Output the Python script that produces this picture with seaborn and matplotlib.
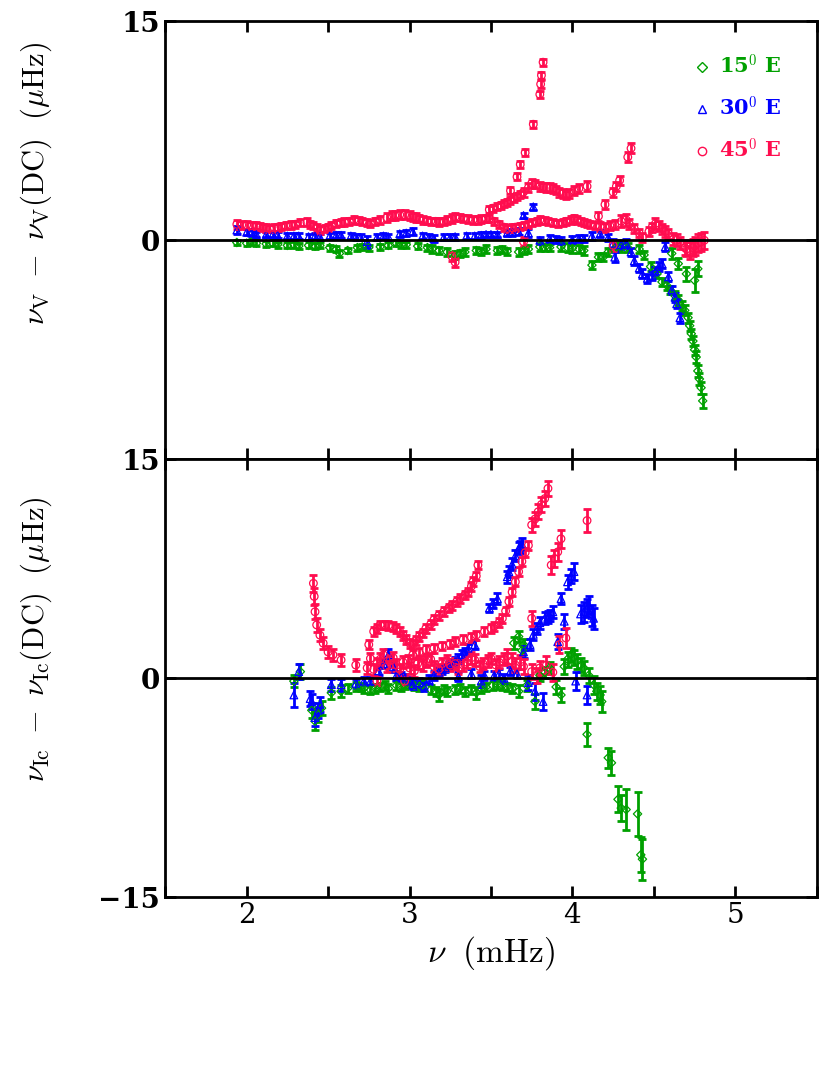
import pandas as pd
import matplotlib
matplotlib.use('Agg')
import matplotlib.pyplot as plt
import seaborn as sns
from matplotlib.lines import Line2D

# data: (frequency mHz, shift uHz, error uHz)
top_green = [(1.94,-0.15,.2),(2.00,-0.2,.2),(2.06,-0.2,.2),(2.12,-0.25,.2),(2.19,-0.3,.2),(2.25,-0.35,.2),
             (2.32,-0.4,.2),(2.38,-0.35,.2),(2.45,-0.35,.2),(2.51,-0.5,.2),(2.57,-0.9,.25),(2.62,-0.7,.2),
             (2.68,-0.5,.2),(2.75,-0.5,.2),(2.82,-0.45,.2),(2.87,-0.35,.2),(2.92,-0.2,.2),(2.98,-0.3,.2),
             (3.05,-0.4,.2),(3.11,-0.5,.2),(3.18,-0.7,.25),(3.23,-0.8,.25),(3.28,-1.0,.25),(3.34,-0.8,.25),
             (3.41,-0.7,.25),(3.47,-0.6,.25),(3.54,-0.7,.25),(3.60,-0.75,.25),(3.67,-0.8,.25),(3.73,-0.6,.25),
             (3.80,-0.45,.25),(3.86,-0.5,.25),(3.93,-0.45,.3),(4.00,-0.55,.3),(4.07,-0.7,.3),(4.12,-1.7,.3),
             (4.16,-1.15,.3),(4.19,-1.15,.3),(4.22,-0.8,.3),(4.27,-0.45,.3),(4.34,-0.5,.3),(4.41,-0.6,.3),
             (4.48,-1.8,.3),(4.52,-2.3,.3),(4.55,-2.85,.3),(4.58,-3.1,.3),(4.60,-3.4,.3),(4.63,-3.8,.3),
             (4.65,-4.1,.35),(4.67,-4.5,.35),(4.69,-4.8,.35),(4.71,-5.3,.35),(4.72,-5.85,.35),(4.73,-6.4,.35),
             (4.74,-6.9,.35),(4.75,-7.5,.35),(4.76,-8.0,.4),(4.77,-8.95,.4),(4.78,-9.5,.4),(4.79,-10.1,.4),
             (4.80,-11.0,.5),(4.61,-0.9,.4),(4.65,-1.6,.4),(4.70,-2.3,.5),(4.75,-2.75,.8),(4.77,-1.95,.5),
             (2.03,-0.1,.2),(2.16,-0.2,.2),(2.29,-0.3,.2),(2.42,-0.4,.2),(2.55,-0.6,.2),(2.71,-0.45,.2),
             (2.95,-0.3,.2),(3.14,-0.6,.25),(3.31,-0.9,.25),(3.44,-0.75,.25),(3.57,-0.65,.25),(3.70,-0.7,.25),
             (3.83,-0.5,.25),(3.97,-0.5,.3),(4.04,-0.6,.3),(4.30,-0.5,.3),(4.44,-1.0,.3)]

top_blue = [(1.94,0.7,.25),(2.00,0.55,.2),(2.06,0.4,.2),(2.12,0.4,.2),(2.19,0.35,.2),(2.25,0.3,.2),
            (2.32,0.3,.2),(2.38,0.25,.2),(2.45,0.25,.2),(2.51,0.3,.2),(2.58,0.35,.2),(2.64,0.3,.2),
            (2.70,0.2,.2),(2.74,-0.1,.4),(2.80,0.2,.2),(2.87,0.25,.2),(2.94,0.45,.2),(3.02,0.6,.25),
            (3.08,0.3,.2),(3.15,0.1,.25),(3.21,0.2,.2),(3.28,0.25,.2),(3.35,0.3,.2),(3.44,0.35,.2),
            (3.50,0.4,.2),(3.54,0.4,.2),(3.60,0.5,.2),(3.67,0.6,.25),(3.70,1.7,.2),(3.76,2.3,.2),
            (3.80,0.0,.25),(3.86,0.1,.25),(3.93,0.0,.25),(4.00,0.05,.25),(4.07,0.1,.25),(4.12,0.3,.25),
            (4.17,0.45,.25),(4.22,0.2,.25),(4.25,-0.2,.3),(4.26,-1.15,.35),(4.30,-0.3,.3),(4.33,-0.2,.3),
            (4.36,-0.8,.3),(4.38,-1.4,.3),(4.41,-1.9,.3),(4.43,-2.3,.3),(4.46,-2.6,.3),(4.49,-2.4,.3),
            (4.51,-2.1,.3),(4.53,-1.8,.3),(4.55,-1.6,.3),(4.57,-0.45,.3),(4.59,-2.5,.3),(4.61,-3.4,.3),
            (4.63,-3.9,.3),(4.64,-4.35,.3),(4.66,-5.3,.35),
            (2.03,0.5,.2),(2.16,0.4,.2),(2.29,0.3,.2),(2.42,0.3,.2),(2.55,0.35,.2),(2.67,0.25,.2),
            (2.84,0.3,.2),(2.98,0.5,.2),(3.12,0.2,.2),(3.25,0.2,.2),(3.40,0.3,.2),(3.47,0.4,.2),
            (3.63,0.55,.25),(3.73,0.5,.25),(3.90,0.05,.25),(4.04,0.1,.25)]

top_red = [(1.94,1.1,.3),(2.00,1.05,.25),(2.06,1.0,.25),(2.10,0.9,.25),(2.14,0.8,.25),(2.19,0.9,.25),
           (2.24,1.0,.25),(2.30,1.1,.25),(2.37,1.25,.25),(2.41,1.0,.25),(2.45,0.7,.25),(2.50,0.9,.25),
           (2.55,1.15,.25),(2.60,1.25,.25),(2.66,1.4,.25),(2.71,1.3,.25),(2.76,1.15,.25),(2.82,1.4,.25),
           (2.89,1.7,.3),(2.94,1.75,.3),(3.00,1.7,.3),(3.04,1.55,.3),(3.08,1.4,.25),(3.13,1.3,.25),
           (3.18,1.25,.25),(3.23,1.4,.25),(3.28,1.6,.3),(3.33,1.5,.25),(3.39,1.4,.25),(3.44,1.45,.25),
           (3.49,1.5,.25),(3.55,1.1,.25),(3.60,0.8,.25),(3.65,0.9,.25),(3.70,1.0,.25),(3.75,1.2,.25),
           (3.80,1.4,.25),(3.85,1.3,.25),(3.91,1.15,.25),(3.96,1.3,.25),(4.01,1.5,.25),(4.05,1.3,.25),
           (4.09,1.15,.25),(4.14,1.0,.25),(4.20,0.9,.3),(4.26,1.1,.3),(4.30,1.3,.4),(4.33,1.4,.4),
           (4.38,0.8,.3),(4.43,0.2,.3),(4.47,0.6,.3),(4.51,1.15,.35),(4.55,0.8,.35),(4.59,0.45,.35),
           (4.62,0.1,.4),(4.66,-0.2,.4),(4.69,-0.5,.5),(4.72,-0.7,.6),(4.75,-0.4,.6),(4.77,-0.2,.6),
           (4.81,0.0,.6),
           (1.97,1.05,.25),(2.03,1.0,.25),(2.08,0.95,.25),(2.12,0.85,.25),(2.17,0.85,.25),(2.21,0.95,.25),
           (2.27,1.05,.25),(2.33,1.2,.25),(2.39,1.1,.25),(2.43,0.85,.25),(2.48,0.8,.25),(2.52,1.0,.25),
           (2.58,1.2,.25),(2.63,1.3,.25),(2.69,1.35,.25),(2.74,1.2,.25),(2.79,1.3,.25),(2.86,1.55,.3),
           (2.91,1.7,.3),(2.97,1.75,.3),(3.02,1.6,.3),(3.06,1.5,.25),(3.11,1.35,.25),(3.16,1.3,.25),
           (3.21,1.3,.25),(3.26,1.5,.3),(3.31,1.55,.25),(3.36,1.45,.25),(3.42,1.4,.25),(3.47,1.5,.25),
           (3.52,1.3,.25),(3.58,0.9,.25),(3.63,0.85,.25),(3.68,0.95,.25),(3.73,1.1,.25),(3.78,1.3,.25),
           (3.83,1.35,.25),(3.88,1.2,.25),(3.94,1.2,.25),(3.99,1.4,.25),(4.03,1.4,.25),(4.07,1.2,.25),
           (4.11,1.1,.25),(4.17,0.95,.3),(4.23,1.0,.3),(4.35,1.1,.35),(4.41,0.5,.3),(4.49,0.9,.3),
           (4.53,1.0,.35),(4.57,0.6,.35),(4.64,0.0,.4),(4.70,-0.6,.5),(4.74,-0.5,.6),(4.79,-0.1,.6),
           (3.49,2.1,.25),(3.54,2.3,.25),(3.58,2.5,.25),(3.62,2.75,.25),(3.66,3.0,.25),(3.70,3.3,.3),
           (3.75,3.9,.3),(3.80,3.7,.3),(3.84,3.6,.3),(3.88,3.55,.3),(3.92,3.3,.3),(3.96,3.1,.3),
           (4.01,3.4,.3),(4.04,3.55,.3),(4.09,3.7,.35),
           (3.51,2.2,.25),(3.56,2.4,.25),(3.60,2.6,.25),(3.64,2.9,.25),(3.68,3.15,.25),(3.73,3.6,.3),
           (3.77,3.85,.3),(3.82,3.65,.3),(3.86,3.6,.3),(3.90,3.45,.3),(3.94,3.2,.3),(3.98,3.2,.3),
           (3.62,3.4,.25),(3.66,4.35,.25),(3.68,5.2,.25),(3.71,6.0,.25),(3.76,7.95,.25),(3.80,10.0,.25),
           (3.805,10.7,.25),(3.81,11.3,.25),(3.82,12.2,.25),
           (4.16,1.65,.3),(4.20,2.45,.3),(4.25,3.3,.3),(4.27,3.7,.3),(4.29,4.1,.3),(4.34,5.7,.35),
           (4.36,6.3,.35),
           (3.26,-1.1,.3),(3.28,-1.5,.3),(3.70,-0.1,.3),(4.25,-0.35,.4)]

bot_green = [(2.29,-0.2,.4),(2.33,0.45,.5),(2.40,-2.2,.5),(2.42,-2.95,.6),(2.44,-2.5,.5),(2.46,-2.05,.5),
             (2.52,-1.0,.4),(2.58,-0.9,.4),(2.67,-0.55,.3),(2.72,-0.7,.3),(2.76,-0.8,.3),(2.82,-0.6,.3),
             (2.87,-0.7,.3),(2.92,-0.5,.3),(2.97,-0.45,.3),(3.03,-0.5,.3),(3.08,-0.45,.3),(3.13,-0.8,.3),
             (3.18,-1.15,.4),(3.23,-0.9,.3),(3.28,-0.8,.3),(3.34,-0.9,.3),(3.41,-1.0,.4),(3.47,-0.6,.3),
             (3.54,-0.45,.3),(3.60,-0.6,.3),(3.67,-0.9,.4),(3.67,2.85,.4),(3.70,2.3,.4),(3.72,-0.5,.4),
             (3.77,-1.6,.5),(3.80,0.2,.4),(3.86,0.7,.4),(3.90,-0.6,.5),(3.93,-1.15,.5),(3.97,1.3,.5),
             (3.99,1.6,.5),(4.03,1.15,.5),(4.05,0.9,.5),(4.07,0.7,.5),(4.10,0.2,.5),(4.13,-0.45,.6),
             (4.15,-0.9,.6),(4.17,-1.15,.6),(4.18,-1.6,.7),(4.09,-3.85,.8),(4.22,-5.45,.7),(4.24,-5.8,.8),
             (4.28,-8.3,.9),(4.30,-8.9,.9),(4.33,-9.0,1.4),(4.40,-9.3,1.5),(4.42,-12.1,1.2),(4.43,-12.4,1.4),
             (2.62,-0.7,.3),(2.70,-0.6,.3),(2.79,-0.7,.3),(2.85,-0.5,.3),(2.95,-0.55,.3),(3.00,-0.4,.3),
             (3.06,-0.55,.3),(3.16,-0.9,.3),(3.21,-0.8,.3),(3.31,-0.7,.3),(3.38,-0.8,.3),(3.44,-0.7,.3),
             (3.51,-0.5,.3),(3.57,-0.5,.3),(3.63,-0.7,.3),(3.64,2.4,.4),(3.69,1.9,.4),(3.83,0.4,.4),
             (3.95,0.8,.5),(4.01,1.4,.5)]

bot_blue = [(2.29,-1.15,.8),(2.32,0.45,.5),(2.39,-1.4,.5),(2.40,-1.6,.5),(2.42,-2.7,.6),(2.44,-2.2,.5),
            (2.45,-1.8,.5),(2.52,-0.45,.4),(2.58,-0.45,.4),(2.67,-0.35,.3),(2.72,-0.2,.3),(2.76,-0.2,.3),
            (2.81,0.5,.3),(2.87,1.6,.4),(2.90,0.8,.4),(2.92,0.2,.3),(2.97,0.0,.3),(3.02,-0.45,.3),
            (3.06,-0.3,.3),(3.09,-0.55,.3),(3.15,0.2,.3),(3.20,0.6,.3),(3.24,0.9,.3),(3.28,1.15,.3),
            (3.32,1.6,.3),(3.36,2.05,.3),(3.40,2.3,.3),(3.44,-0.2,.4),(3.49,4.8,.3),(3.51,5.1,.3),
            (3.54,5.45,.4),(3.60,6.95,.4),(3.63,7.8,.4),(3.65,8.4,.4),(3.67,8.9,.4),(3.69,9.2,.4),
            (3.70,1.8,.4),(3.74,2.3,.4),(3.77,-0.9,.6),(3.78,3.4,.4),(3.80,3.8,.4),(3.82,-1.6,.6),
            (3.83,4.1,.4),(3.86,4.3,.4),(3.88,4.55,.4),(3.91,2.5,.5),(3.93,5.45,.4),(3.95,3.9,.5),
            (3.97,6.6,.5),(4.01,7.3,.6),(4.02,-0.2,.6),(4.05,4.4,.6),(4.07,4.55,.7),(4.09,4.8,.6),
            (4.09,-1.15,.6),(4.12,4.3,.7),(4.13,4.1,.7),
            (3.30,0.1,.3),(3.38,0.3,.3),(3.46,0.2,.3),(3.55,0.3,.3),(3.62,0.5,.3),(3.73,-0.3,.5),
            (2.84,1.0,.3),(2.95,0.1,.3),(3.00,-0.2,.3),(3.12,-0.1,.3),(3.18,0.4,.3),(3.22,0.7,.3),
            (3.26,1.0,.3),(3.30,1.35,.3),(3.34,1.8,.3),(3.52,0.2,.3),(3.58,0.0,.3),(3.66,0.3,.3),
            (3.61,7.3,.4),(3.68,9.0,.4),(3.76,3.0,.4),(3.85,4.2,.4),(3.99,7.0,.5),(4.10,5.0,.6)]

bot_red = [(2.41,6.5,.6),(2.415,5.6,.6),(2.42,4.55,.5),(2.43,3.65,.5),(2.45,2.95,.4),(2.47,2.4,.4),
           (2.50,1.8,.4),(2.53,1.6,.4),(2.58,1.25,.4),(2.67,0.9,.4),(2.74,0.7,.4),
           (2.75,2.3,.3),(2.78,3.2,.3),(2.80,3.4,.3),(2.82,3.65,.3),(2.85,3.65,.3),(2.87,3.6,.3),
           (2.90,3.55,.3),(2.92,3.4,.3),(2.94,3.2,.3),(2.96,2.95,.3),(2.98,2.65,.3),(3.00,2.4,.3),
           (3.02,2.3,.3),(3.04,2.6,.3),(3.06,2.85,.3),(3.08,3.1,.3),(3.10,3.4,.3),(3.13,3.7,.3),
           (3.15,4.0,.3),(3.18,4.3,.3),(3.21,4.55,.3),(3.24,4.8,.3),(3.26,5.0,.3),(3.29,5.25,.3),
           (3.31,5.45,.3),(3.34,5.7,.3),(3.36,5.9,.3),(3.38,6.3,.3),(3.39,6.6,.3),(3.41,7.0,.3),
           (3.42,7.75,.3),
           (3.02,1.6,.3),(3.06,1.8,.3),(3.10,1.95,.3),(3.15,2.05,.3),(3.20,2.2,.3),(3.25,2.35,.3),
           (3.28,2.5,.3),(3.33,2.65,.3),(3.38,2.8,.3),(3.41,2.95,.3),(3.46,3.2,.3),(3.50,3.4,.3),
           (3.52,3.55,.3),(3.55,3.8,.3),(3.57,4.1,.3),(3.59,4.6,.3),(3.61,5.25,.3),(3.63,5.9,.3),
           (3.65,6.6,.3),(3.67,7.3,.3),(3.69,8.0,.3),(3.71,8.6,.3),(3.73,9.1,.3),(3.75,10.5,.5),
           (3.77,10.9,.5),(3.79,11.4,.5),(3.81,11.9,.5),(3.83,12.3,.5),(3.85,13.0,.5),
           (3.75,4.1,.5),(3.87,7.75,.6),(3.89,8.2,.6),(3.91,8.65,.6),(3.93,9.55,.6),(4.09,10.8,.8),
           (3.96,2.75,.7),(3.92,2.3,.6),
           (2.76,1.35,.4),(2.80,1.0,.4),(2.84,1.6,.4),(2.88,1.2,.4),(2.92,0.9,.4),(2.96,1.1,.4),
           (3.00,0.7,.4),(3.05,1.0,.4),(3.10,1.15,.4),(3.15,0.8,.4),(3.20,1.0,.4),(3.25,0.9,.4),
           (3.30,0.7,.4),(3.35,1.1,.4),(3.40,1.25,.4),(3.45,1.0,.4),(3.50,1.35,.4),(3.55,1.1,.4),
           (3.60,1.5,.5),(3.65,0.9,.5),(3.70,0.8,.5),(3.75,0.45,.5),(3.80,0.7,.5),(3.84,0.9,.6),
           (2.78,0.6,.4),(2.82,1.3,.4),(2.86,0.8,.4),(2.90,1.4,.4),(2.94,0.6,.4),(2.99,1.2,.4),
           (3.03,0.5,.4),(3.08,0.9,.4),(3.13,1.3,.4),(3.18,0.6,.4),(3.23,1.2,.4),(3.28,1.0,.4),
           (3.33,0.9,.4),(3.38,1.4,.4),(3.43,0.8,.4),(3.48,1.2,.4),(3.53,0.9,.4),(3.58,1.3,.4),
           (3.63,1.2,.5),(3.68,1.1,.5),(3.78,0.2,.5),(3.88,0.4,.6),
           (2.80,-0.2,.3),(2.97,-0.2,.3)]

labels = ['15$^0$ E', '30$^0$ E', '45$^0$ E']
colors = ['#00a000', '#0000ff', '#ff0d4f']
markers = ['D', '^', 'o']

sns.set_theme(style='ticks')
plt.rcParams['font.family'] = ['DejaVu Serif']
plt.rcParams['mathtext.fontset'] = 'cm'
for key in ['text.color', 'axes.labelcolor', 'xtick.color', 'ytick.color', 'axes.edgecolor']:
    plt.rcParams[key] = 'black'

fig = plt.figure(figsize=(8.3, 10.68), dpi=100)
ax1 = fig.add_axes([0.199, 0.570, 0.785, 0.410])
ax2 = fig.add_axes([0.199, 0.160, 0.785, 0.410])


def draw(ax, series):
    for pts, c, m in zip(series, colors, markers):
        df = pd.DataFrame(pts, columns=['nu', 'dnu', 'err'])
        ax.errorbar(df['nu'], df['dnu'], yerr=df['err'], fmt='none', ecolor=c,
                    elinewidth=2.0, capsize=3.2, capthick=2.0, zorder=2)
        sns.scatterplot(data=df, x='nu', y='dnu', marker=m, s=30 if m != 'D' else 18,
                        facecolors='none', edgecolors=c, linewidths=0.9, ax=ax, zorder=3)
    ax.axhline(0, color='black', lw=2, zorder=4)
    ax.set_xlim(1.5, 5.5)
    ax.set_ylim(-15, 15)
    ax.set_xticks([1.5, 2, 2.5, 3, 3.5, 4, 4.5, 5, 5.5])
    ax.set_yticks([-15, 0, 15])
    ax.tick_params(direction='in', top=True, right=True, width=2, length=8, labelsize=20)
    for s in ax.spines.values():
        s.set_linewidth(2)
    ax.set_xlabel('')


draw(ax1, [top_green, top_blue, top_red])
draw(ax2, [bot_green, bot_blue, bot_red])

ax1.set_xticklabels([])
ax1.set_yticklabels(['', '0', '15'], fontweight='bold')
ax2.set_yticklabels(['\u221215', '0', '15'], fontweight='bold')
ax2.set_xticklabels(['', '2', '', '3', '', '4', '', '5', ''])

ax1.set_ylabel(r'$\nu_{\rm V}\ -\ \nu_{\rm V}\mathrm{(DC)}\ \ (\mu\mathrm{Hz})$', fontsize=22)
ax2.set_ylabel(r'$\nu_{\rm Ic}\ -\ \nu_{\rm Ic}\mathrm{(DC)}\ \ (\mu\mathrm{Hz})$', fontsize=22)
ax1.yaxis.set_label_coords(-0.17, 0.63)
ax2.yaxis.set_label_coords(-0.17, 0.59)
ax2.set_xlabel(r'$\nu\ \ \mathrm{(mHz)}$', fontsize=24)

handles = [Line2D([], [], ls='none', marker=m, mfc='none', mec=c, ms=6 if m != 'D' else 5)
           for m, c in zip(markers, colors)]
leg = ax1.legend(handles, labels, loc='upper right', bbox_to_anchor=(0.975, 0.968), frameon=False,
                 fontsize=15, labelspacing=0.85, handlelength=0.8, handletextpad=0.4,
                 labelcolor=colors)
for t in leg.get_texts():
    t.set_fontweight('bold')

fig.savefig('out.png', dpi=100)
